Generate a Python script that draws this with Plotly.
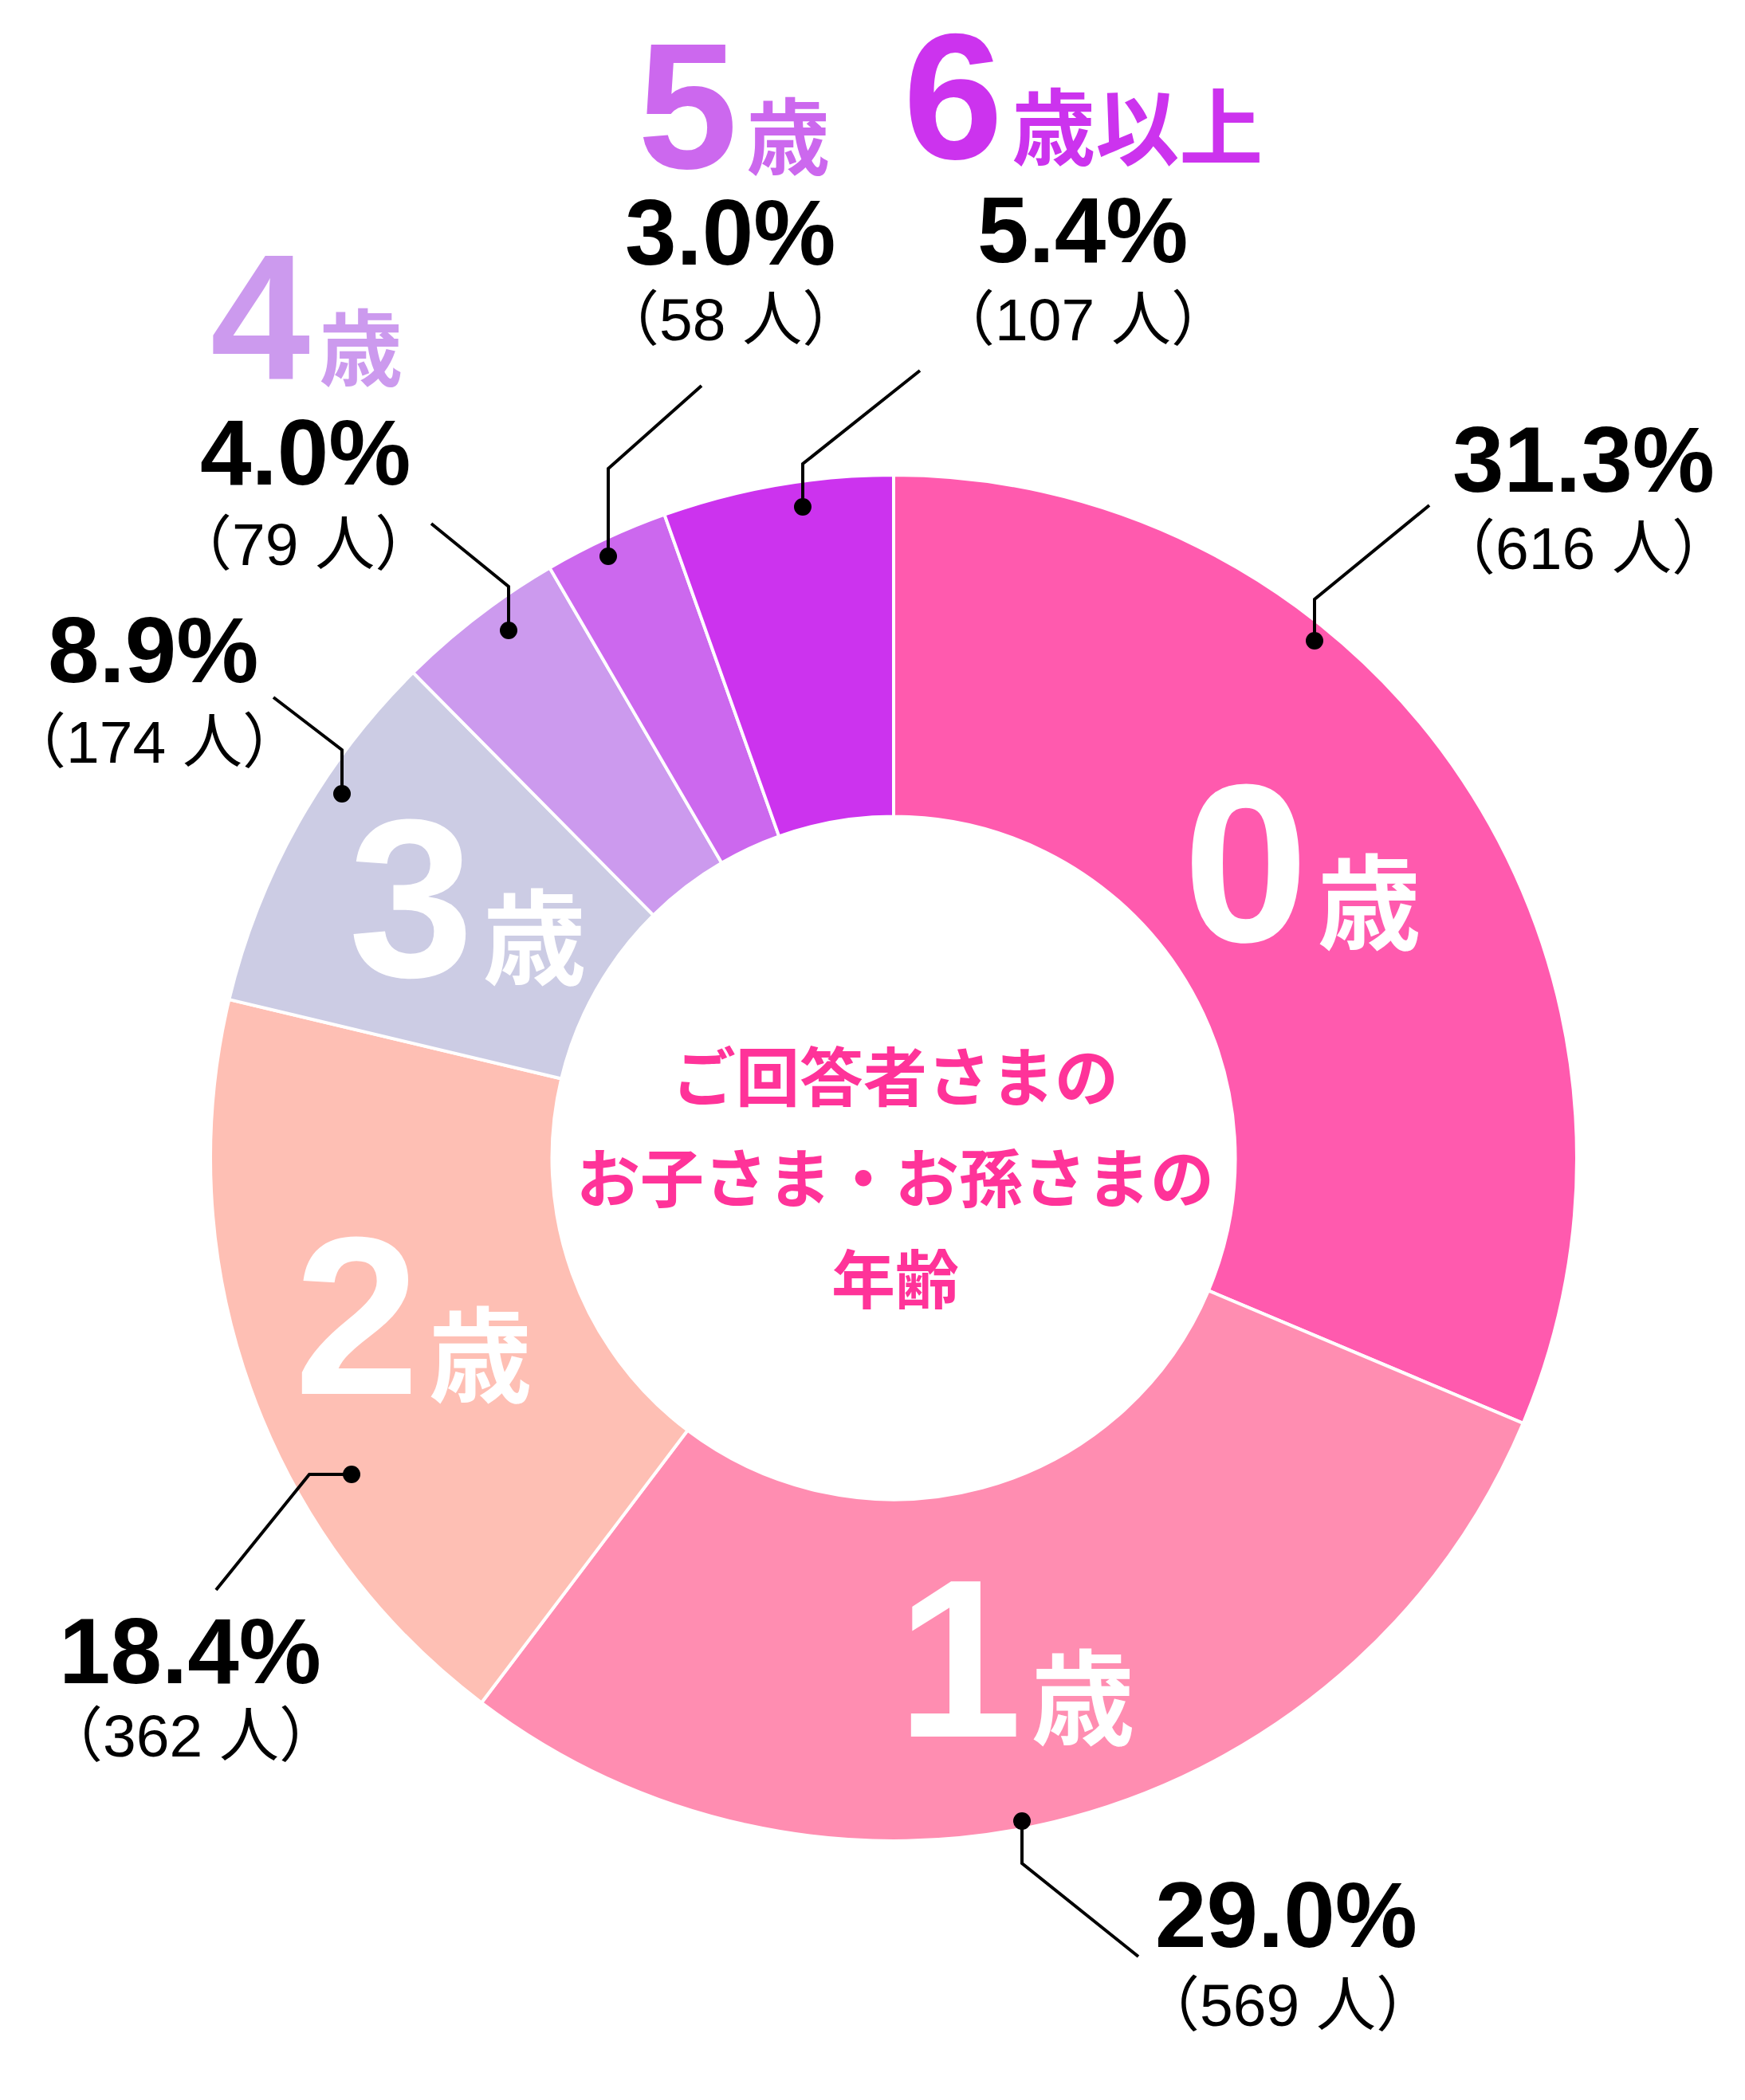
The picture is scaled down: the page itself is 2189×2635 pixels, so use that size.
import plotly.graph_objects as go

# 2189 x 2635 canvas, the overlay axes below use pixel units (y grows downward)
W, H = 2189, 2635

# ---- data ----
ages = ["0歳", "1歳", "2歳", "3歳", "4歳", "5歳", "6歳以上"]
counts = [616, 569, 362, 174, 79, 58, 107]
percents = [31.3, 29.0, 18.4, 8.9, 4.0, 3.0, 5.4]
colors = ["#FF5AAE", "#FF8DB1", "#FEBFB4", "#CCCCE4", "#CC9AEE", "#CC68EE", "#CC33EE"]
center_title = ["ご回答者さまの", "お子さま・お孫さまの", "年齢"]

# ---- layout helpers (positions in px) ----
pie_cx, pie_cy, pie_r = 1113, 1445, 857

# leader lines: dot, elbow, end
leaders = [
    [(1641, 796), (1641, 744), (1785, 626)],
    [(1274, 2277), (1274, 2330), (1420, 2447)],
    [(433, 1842), (380, 1842), (263, 1987)],
    [(421, 988), (421, 933), (335, 867)],
    [(630, 783), (630, 728), (533, 649)],
    [(755, 690), (755, 580), (872, 476)],
    [(999, 628), (999, 574), (1146, 457)],
]
pct_pos = [(1978, 569), (1605, 2395), (230, 2064), (184, 808), (375, 560), (908, 284), (1350, 281)]
cnt_pos = [(1978, 680), (1607, 2508), (231, 2170), (185, 923), (372, 675), (908, 393), (1350, 393)]

# big age labels: inside the ring (white) for 0-3, above the chart (slice colour) for 4-6+
inner_pos = [(1625, 1075), (1266, 2073), (510, 1643), (578, 1119)]
outer_pos = [(376, 390), (912, 125), (1350, 113)]

fig = go.Figure()

fig.add_trace(go.Pie(
    labels=ages,
    values=counts,
    sort=False,
    direction="clockwise",
    rotation=0,
    hole=0.5,
    marker=dict(colors=colors, line=dict(color="white", width=4)),
    textinfo="none",
    hoverinfo="label+value+percent",
    showlegend=False,
    domain=dict(
        x=[(pie_cx - pie_r) / W, (pie_cx + pie_r) / W],
        y=[(H - pie_cy - pie_r) / H, (H - pie_cy + pie_r) / H],
    ),
))

# invisible trace so the pixel overlay axes exist
fig.add_trace(go.Scatter(
    x=[p[0][0] for p in leaders], y=[p[0][1] for p in leaders],
    mode="markers", marker=dict(opacity=0), hoverinfo="skip", showlegend=False,
))

shapes = []
annotations = []

for pts in leaders:
    path = "M {} {} L {} {} L {} {}".format(*pts[0], *pts[1], *pts[2])
    shapes.append(dict(type="path", path=path, xref="x", yref="y",
                       line=dict(color="black", width=4), layer="above"))
    dx, dy = pts[0]
    shapes.append(dict(type="circle", xref="x", yref="y",
                       x0=dx - 11, x1=dx + 11, y0=dy - 11, y1=dy + 11,
                       fillcolor="black", line=dict(color="black", width=0), layer="above"))

pct_font = dict(family="Liberation Sans Narrow, Liberation Sans, Arial", size=116,
                color="black", weight="bold")
cnt_font = dict(family="Liberation Sans Narrow, Liberation Sans, Noto Sans CJK JP", size=75,
                color="black")

for i in range(len(ages)):
    annotations.append(dict(x=pct_pos[i][0], y=pct_pos[i][1], xref="x", yref="y",
                            text=f"{percents[i]:.1f}%", showarrow=False, font=pct_font,
                            xanchor="center", yanchor="middle"))
    annotations.append(dict(x=cnt_pos[i][0], y=cnt_pos[i][1], xref="x", yref="y",
                            text=f"（{counts[i]} 人）", showarrow=False, font=cnt_font,
                            xanchor="center", yanchor="middle"))


def age_text(label, suffix_size):
    num = label[0]
    rest = label[1:]
    return (f"{num}<span style='font-size:40px'> </span>"
            f"<span style='font-size:{suffix_size}px'>{rest}</span>")


for i in range(4):
    annotations.append(dict(x=inner_pos[i][0], y=inner_pos[i][1], xref="x", yref="y",
                            text=age_text(ages[i], 130), showarrow=False,
                            font=dict(family="Liberation Sans, Noto Sans CJK JP", size=283,
                                      color="white", weight="bold"),
                            xanchor="center", yanchor="middle"))

for j, i in enumerate(range(4, 7)):
    annotations.append(dict(x=outer_pos[j][0], y=outer_pos[j][1], xref="x", yref="y",
                            text=age_text(ages[i], 105), showarrow=False,
                            font=dict(family="Liberation Sans, Noto Sans CJK JP", size=225,
                                      color=colors[i], weight="bold"),
                            xanchor="center", yanchor="middle"))

# centre title, one annotation per line to get the wider line spacing
for k, line in enumerate(center_title):
    annotations.append(dict(x=pie_cx + 2, y=1338 + 127 * k, xref="x", yref="y",
                            text=line, showarrow=False,
                            font=dict(family="Noto Sans CJK JP", size=80,
                                      color="#FF3399", weight="bold"),
                            xanchor="center", yanchor="middle"))

fig.update_layout(
    width=W, height=H,
    margin=dict(l=0, r=0, t=0, b=0),
    paper_bgcolor="white",
    plot_bgcolor="rgba(0,0,0,0)",
    xaxis=dict(range=[0, W], visible=False, fixedrange=True),
    yaxis=dict(range=[H, 0], visible=False, fixedrange=True),
    shapes=shapes,
    annotations=annotations,
)

fig.write_html("out.html")
